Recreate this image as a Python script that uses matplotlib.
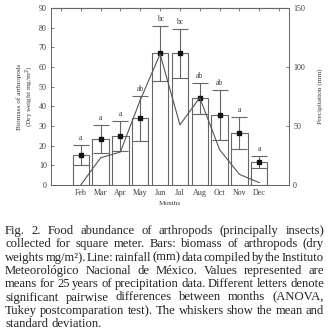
import matplotlib
matplotlib.use('Agg')
import matplotlib.pyplot as plt

# Дані
months = ['Feb', 'Mar', 'Apr', 'May', 'Jun', 'Jul', 'Aug', 'Oct', 'Nov', 'Dec']
biomass = [15.3, 23.4, 25.0, 34.0, 67.0, 67.0, 44.0, 35.6, 26.4, 11.7]
biomass_sd = [5.1, 6.9, 7.7, 11.5, 14.0, 12.5, 8.0, 12.5, 8.0, 3.1]
letters = ['a', 'a', 'a', 'ab', 'bc', 'bc', 'ab', 'ab', 'a', 'a']
rainfall = [0, 23, 28, 72, 111, 51, 74, 30, 9, 2]

caption_lines = [
    "Fig. 2. Food abundance of arthropods (principally insects)",
    "collected for square meter. Bars: biomass of arthropods (dry",
    "weights mg/m²). Line: rainfall (mm) data compiled by the Instituto",
    "Meteorológico Nacional de México. Values represented are",
    "means for 25 years of precipitation data. Different letters denote",
    "significant pairwise differences between months (ANOVA,",
    "Tukey postcomparation test). The whiskers show the mean and",
    "standard deviation.",
]

plt.rcParams['font.family'] = ['Liberation Serif', 'DejaVu Serif']
ink = '#3a3a3a'
grey = '#666666'

W, H = 329, 334
fig = plt.figure(figsize=(W / 100, H / 100), dpi=100)
ax = fig.add_axes([51 / W, 1 - 185 / H, 238 / W, 177 / H])

x = list(range(1, len(months) + 1))
ax.bar(x, biomass, width=0.82, color='white', edgecolor=grey, lw=0.8, zorder=2)
ax.errorbar(x, biomass, yerr=biomass_sd, fmt='s', ms=3, color='#111111',
            ecolor=grey, elinewidth=0.8, capsize=5.5, capthick=0.8, zorder=4)
for xi, m, s, l in zip(x, biomass, biomass_sd, letters):
    ax.text(xi, m + s + 1.5, l, ha='center', va='bottom', fontsize=5.5, color=ink)

ax.set_xlim(-0.5, 11.5)
ax.set_ylim(0, 90)
ax.set_yticks(range(0, 91, 10))
ax.set_xticks(x)
ax.set_xticklabels(months)
ax.tick_params(direction='in', length=2.5, width=0.6, labelsize=5.8,
               colors=grey, labelcolor=ink, pad=3)
ax.set_xlabel('Months', fontsize=5.2, color=ink, labelpad=3)
ax.set_ylabel('Biomass of arthropods\n(Dry weight mg/m$^2$)', fontsize=5.2,
              color=ink, labelpad=2, linespacing=1.3)

# верхні поділки
top = ax.secondary_xaxis('top')
top.set_xticks(range(0, 12))
top.tick_params(direction='in', length=2.5, width=0.6, colors=grey, labelsize=0)
top.set_xticklabels([])

ax2 = ax.twinx()
ax2.plot(x, rainfall, color='#555555', lw=0.8, zorder=3)
ax2.set_ylim(0, 150)
ax2.set_yticks([0, 50, 100, 150])
ax2.tick_params(direction='in', length=2.5, width=0.6, labelsize=5.8,
                colors=grey, labelcolor=ink, pad=3)
ax2.set_ylabel('Precipitation (mm)', fontsize=5.2, color=ink, labelpad=9)

for a in (ax, ax2):
    for sp in a.spines.values():
        sp.set_color(grey)
        sp.set_linewidth(0.7)

# Підпис з вирівнюванням по ширині
renderer = fig.canvas.get_renderer()
x0, x1 = 5, 324
for i, line in enumerate(caption_lines):
    words = line.split()
    yb = 1 - (234 + i * 13.3) / H
    texts = [fig.text(0, yb, w, fontsize=9.1, color='#222222', va='baseline')
             for w in words]
    widths = [t.get_window_extent(renderer).width for t in texts]
    if i == len(caption_lines) - 1 or len(words) == 1:
        gap = 3.0
    else:
        gap = (x1 - x0 - sum(widths)) / (len(words) - 1)
    pos = x0
    for t, w in zip(texts, widths):
        t.set_x(pos / W)
        pos += w + gap

fig.savefig('out.png', dpi=100)
